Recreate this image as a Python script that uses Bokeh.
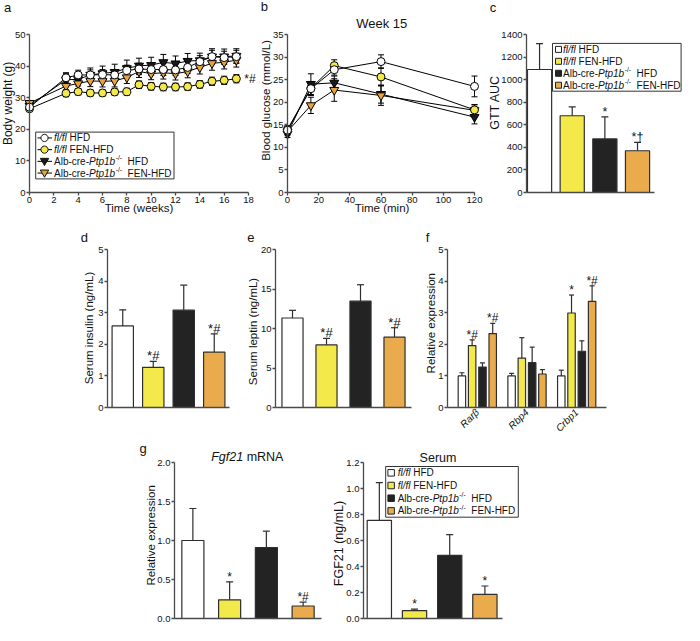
import numpy as np
from bokeh.plotting import figure
from bokeh.models import (Range1d, FixedTicker, Label, BoxAnnotation, PolyAnnotation,
                          Whisker, TeeHead, ColumnDataSource, NumeralTickFormatter)
from bokeh.layouts import row, column
from bokeh.embed import file_html
from bokeh.resources import INLINE
from bokeh.core.properties import value

# ---------------- data ----------------
groups = ["fl/fl HFD", "fl/fl FEN-HFD", "Alb-cre-Ptp1b-/- HFD", "Alb-cre-Ptp1b-/- FEN-HFD"]

# (a) body weight (g)
weeks = [0, 3, 4, 5, 6, 7, 8, 9, 10, 11, 12, 13, 14, 15, 16, 17]
bw_flfl_hfd = [27.0, 36.3, 37.2, 37.2, 37.3, 37.2, 38.6, 39.1, 38.9, 38.9, 38.8, 39.6, 41.4, 43.0, 42.7, 43.0]
bw_flfl_fen = [26.5, 31.4, 31.9, 31.5, 31.5, 31.8, 31.9, 34.1, 33.6, 33.4, 33.4, 33.5, 34.2, 35.2, 35.5, 36.0]
bw_ko_hfd = [27.5, 35.7, 35.8, 37.2, 37.7, 38.1, 39.3, 40.1, 40.3, 41.2, 40.8, 41.6, 41.8, 43.0, 43.0, 43.2]
bw_ko_fen = [28.3, 33.7, 34.5, 35.3, 35.2, 35.3, 36.4, 38.3, 37.6, 37.9, 37.6, 38.3, 39.6, 40.9, 41.2, 41.9]
bw_flfl_hfd_err = [0.8, 1.6, 1.5, 1.6, 1.6, 1.7, 1.7, 1.8, 1.8, 1.9, 1.8, 1.9, 1.9, 2.0, 2.0, 2.0]
bw_flfl_fen_err = [0.7, 1.1, 1.0, 1.0, 1.0, 1.0, 1.1, 1.2, 1.2, 1.2, 1.2, 1.2, 1.2, 1.3, 1.3, 1.3]
bw_ko_hfd_err = [0.9, 2.0, 2.1, 2.2, 2.3, 2.5, 2.6, 2.4, 2.5, 2.5, 2.4, 2.4, 2.3, 2.5, 2.4, 2.3]
bw_ko_fen_err = [0.8, 1.6, 1.7, 1.8, 1.8, 1.9, 1.9, 1.9, 1.9, 2.0, 2.0, 2.0, 2.1, 2.2, 2.1, 2.2]

# (b) GTT, week 15
gtt_min = [0, 15, 30, 60, 120]
gtt_flfl_hfd = [13.8, 23.0, 27.2, 29.0, 23.5]
gtt_flfl_fen = [14.0, 23.1, 28.1, 25.6, 18.3]
gtt_ko_hfd = [13.0, 24.0, 24.3, 21.8, 16.7]
gtt_ko_fen = [13.5, 19.3, 22.7, 21.5, 18.2]
gtt_flfl_hfd_err = [0.8, 1.5, 1.2, 1.5, 2.3]
gtt_flfl_fen_err = [0.8, 1.5, 1.3, 2.0, 1.2]
gtt_ko_hfd_err = [0.8, 2.3, 1.5, 2.0, 1.5]
gtt_ko_fen_err = [0.8, 1.8, 2.5, 2.2, 1.2]

# (c) GTT AUC
gtt_auc = [1090, 680, 475, 370]
gtt_auc_err = [230, 78, 195, 75]
gtt_auc_ann = ["", "", "*", "*\u2020"]

# (d) serum insulin (ng/mL)
insulin = [2.58, 1.27, 3.08, 1.75]
insulin_err = [0.51, 0.19, 0.79, 0.58]
insulin_ann = ["", "*#", "", "*#"]

# (e) serum leptin (ng/mL)
leptin = [11.33, 7.92, 13.46, 8.9]
leptin_err = [0.97, 0.83, 2.08, 1.2]
leptin_ann = ["", "*#", "", "*#"]

# (f) relative expression of genes
genes = ["Rar\u03b2", "Rbp4", "Crbp1"]
expr = [[1.0, 1.96, 1.28, 2.34], [1.0, 1.56, 1.42, 1.06], [1.0, 2.99, 1.78, 3.36]]
expr_err = [[0.1, 0.18, 0.13, 0.32], [0.08, 0.65, 0.49, 0.14], [0.18, 0.57, 0.33, 0.49]]
expr_ann = [["", "*#", "", "*#"], ["", "", "", ""], ["", "*", "", "*#"]]

# (g) Fgf21
fgf21_mrna = [1.0, 0.24, 0.91, 0.16]
fgf21_mrna_err = [0.41, 0.23, 0.21, 0.05]
fgf21_mrna_ann = ["", "*", "", "*#"]
fgf21_serum = [0.755, 0.06, 0.485, 0.185]
fgf21_serum_err = [0.29, 0.012, 0.16, 0.065]
fgf21_serum_ann = ["", "*", "", "*"]

# legend label pieces: (text, font style, superscript, gap before in em)
legend_pieces = [
    [("fl/fl", "italic", False, 0), ("HFD", "normal", False, 0.278)],
    [("fl/fl", "italic", False, 0), ("FEN-HFD", "normal", False, 0.278)],
    [("Alb-cre-", "normal", False, 0), ("Ptp1b", "italic", False, 0), ("-/-", "normal", True, 0.05),
     ("HFD", "normal", False, 0.556)],
    [("Alb-cre-", "normal", False, 0), ("Ptp1b", "italic", False, 0), ("-/-", "normal", True, 0.05),
     ("FEN-HFD", "normal", False, 0.556)],
]

# ---------------- styles ----------------
FONT = "Liberation Sans"
AX = "#4a4a4a"
EDGE = "#2e2e2e"
TXT = "#111111"
TICK_FS = "9.5px"
bar_colors = ["#ffffff", "#f4e94b", "#232323", "#e9ab4b"]
marker_fill = ["#ffffff", "#f4e94b", "#1a1a1a", "#e9a23c"]
marker_type = ["circle", "circle", "inverted_triangle", "inverted_triangle"]
marker_size = [8, 8, 9, 9]

W = {' ': 278, '-': 333, '/': 278, '#': 556, '*': 389, '(': 333, ')': 333,
     'A': 667, 'B': 667, 'C': 722, 'D': 722, 'E': 667, 'F': 611, 'G': 778, 'H': 722,
     'L': 556, 'N': 722, 'P': 667, 'R': 722, 'S': 667, 'T': 611, 'U': 722, 'W': 944,
     'a': 556, 'b': 556, 'c': 500, 'd': 556, 'e': 556, 'f': 278, 'g': 556, 'h': 556,
     'i': 222, 'k': 500, 'l': 222, 'm': 833, 'n': 556, 'o': 556, 'p': 556, 'r': 333,
     's': 500, 't': 278, 'u': 556, 'v': 500, 'w': 722, 'x': 500, 'y': 500}


def tw(s, size):
    return sum(W.get(ch, 556) for ch in s) / 1000.0 * size


def xrange_fit(d0, d1, p0, p1, total):
    s = (p1 - p0) / (d1 - d0)
    start = d0 - p0 / s
    return Range1d(start, start + total / s)


def yrange_fit(d0, d1, pb, pt, total):
    s = (pb - pt) / (d1 - d0)
    start = d0 - (total - pb) / s
    return Range1d(start, start + total / s)


def make_fig(w, h, xd, xp, yd, yp):
    """xd: (x0, x1) data at pixels xp (from left); yd: (y0, y1) data at pixels yp (from top)."""
    p = figure(width=w, height=h,
               x_range=xrange_fit(xd[0], xd[1], xp[0], xp[1], w),
               y_range=yrange_fit(yd[0], yd[1], yp[0], yp[1], h),
               output_backend="svg", toolbar_location=None,
               min_border_left=0, min_border_right=0, min_border_top=0, min_border_bottom=0)
    p.outline_line_color = None
    p.xgrid.visible = False
    p.ygrid.visible = False
    p.border_fill_color = "white"
    p.xaxis.fixed_location = yd[0]
    p.yaxis.fixed_location = xd[0]
    p.xaxis.bounds = (xd[0], xd[1])
    p.yaxis.bounds = (yd[0], yd[1])
    for ax in p.axis:
        ax.axis_line_color = AX
        ax.axis_line_width = 1.3
        ax.major_tick_line_color = AX
        ax.major_tick_line_width = 1.3
        ax.major_tick_out = 3
        ax.major_tick_in = 0
        ax.minor_tick_line_color = None
        ax.minor_tick_out = 0
        ax.minor_tick_in = 0
        ax.major_label_text_font = FONT
        ax.major_label_text_font_size = TICK_FS
        ax.major_label_text_color = TXT
        ax.major_label_standoff = 1
    return p, h


def no_xticks(p):
    p.xaxis.ticker = FixedTicker(ticks=[])
    p.xaxis.major_tick_out = 0
    p.xaxis.major_label_standoff = 0


def label(p, H, x, y, text, size, style="normal", angle=0.0, align="center", baseline="middle"):
    p.add_layout(Label(x=x, y=H - y, x_units="screen", y_units="screen", text=text,
                       text_font=FONT, text_font_size=f"{size}px", text_font_style=style,
                       angle=angle, text_align=align, text_baseline=baseline, text_color=TXT))


def rich(p, H, x, y, pieces, size):
    cx = x
    for text, style, sup, gap in pieces:
        cx += gap * size
        fs = size * 0.68 if sup else size
        yy = y - size * 0.36 if sup else y
        label(p, H, cx, yy, text, round(fs, 2), style=style, align="left")
        cx += tw(text, fs)


def sbox(p, H, l, t, r, b, fill, line=EDGE, lw=1.0):
    p.add_layout(BoxAnnotation(left=l, right=r, top=H - t, bottom=H - b,
                               left_units="screen", right_units="screen",
                               top_units="screen", bottom_units="screen",
                               fill_color=fill, fill_alpha=1.0, line_color=line,
                               line_alpha=1.0, line_width=lw))


def spoly(p, H, xs, ys, fill, line="#111111", lw=1.0):
    p.add_layout(PolyAnnotation(xs=list(xs), ys=[H - v for v in ys],
                                xs_units="screen", ys_units="screen",
                                fill_color=fill, fill_alpha=1.0 if fill else 0.0,
                                line_color=line, line_alpha=1.0, line_width=lw))


def square_legend(p, H, left, top, right, bottom, sq_x, sq_s, text_x, size):
    sbox(p, H, left, top, right, bottom, "white", line="#333333", lw=1.0)
    rh = (bottom - top) / 4.0
    for i in range(4):
        yc = top + (i + 0.5) * rh
        sbox(p, H, sq_x, yc - sq_s / 2, sq_x + sq_s, yc + sq_s / 2, bar_colors[i], line="#222222", lw=1.0)
        rich(p, H, text_x, yc, legend_pieces[i], size)


def add_series(p, x, y, err, k):
    src = ColumnDataSource(dict(x=x, y=y, lo=[a - b for a, b in zip(y, err)],
                                hi=[a + b for a, b in zip(y, err)]))
    p.add_layout(Whisker(source=src, base="x", lower="lo", upper="hi", dimension="height",
                         line_color="black", line_width=1.0, level="underlay",
                         upper_head=TeeHead(size=6, line_color="black", line_width=1.0),
                         lower_head=TeeHead(size=6, line_color="black", line_width=1.0)))
    p.line("x", "y", source=src, line_color="black", line_width=1.0)
    p.scatter("x", "y", source=src, marker=marker_type[k], size=marker_size[k],
              fill_color=marker_fill[k], line_color="black", line_width=1.0)


def add_bars(p, x, vals, errs, colors, anns, width, head, ann_size):
    src = ColumnDataSource(dict(x=x, top=vals, up=[v + e for v, e in zip(vals, errs)],
                                color=colors, ann=anns))
    p.vbar(x="x", top="top", bottom=0, width=width, source=src, fill_color="color",
           line_color=EDGE, line_width=1.2)
    p.add_layout(Whisker(source=src, base="x", lower="top", upper="up", dimension="height",
                         line_color=EDGE, line_width=1.2, lower_head=None,
                         upper_head=TeeHead(size=head, line_color=EDGE, line_width=1.2)))
    p.text(x="x", y="up", text="ann", source=src, text_font=value(FONT),
           text_font_size=value(f"{ann_size}px"), text_align="center",
           text_baseline="bottom", text_color=TXT, y_offset=2)


# ---------------- row 1 ----------------
pa, Ha = make_fig(258, 216, (0, 18), (29, 248), (0, 50), (192, 34))
pa.xaxis.ticker = FixedTicker(ticks=list(range(0, 19, 2)))
pa.yaxis.ticker = FixedTicker(ticks=list(range(0, 51, 10)))
bw = [bw_flfl_hfd, bw_flfl_fen, bw_ko_hfd, bw_ko_fen]
bw_err = [bw_flfl_hfd_err, bw_flfl_fen_err, bw_ko_hfd_err, bw_ko_fen_err]
for k in [2, 3, 1, 0]:
    add_series(pa, weeks, bw[k], bw_err[k], k)
pa.text(x=[weeks[-1]], y=[bw_flfl_fen[-1]], text=["*#"], x_offset=8, text_baseline="middle",
        text_align="left", text_font=value(FONT), text_font_size=value("12px"), text_color=TXT)
label(pa, Ha, 7.0, 7.3, "a", 13)
label(pa, Ha, 7.0, 102.9, "Body weight (g)", 12, angle=np.pi / 2)
label(pa, Ha, 138.5, 207.7, "Time (weeks)", 11.5)
# legend (a)
lt, lb, ll, lr = 131.6, 178.4, 35.2, 173.5
sbox(pa, Ha, ll, lt, lr, lb, "white", line="#333333", lw=1.0)
rh = (lb - lt) / 4.0
ang = np.linspace(0, 2 * np.pi, 17)[:-1]
for k in range(4):
    yc = lt + (k + 0.5) * rh
    spoly(pa, Ha, [37.0, 51.5], [yc, yc], None, line="black", lw=1.0)
    if marker_type[k] == "circle":
        spoly(pa, Ha, 44 + 3.6 * np.cos(ang), yc + 3.6 * np.sin(ang), marker_fill[k])
    else:
        spoly(pa, Ha, [39.8, 48.2, 44.0], [yc - 3.0, yc - 3.0, yc + 4.2], marker_fill[k])
    rich(pa, Ha, 53.5, yc, legend_pieces[k], 10)

pb, Hb = make_fig(230, 216, (0, 120), (29, 216), (0, 35), (192, 34))
pb.xaxis.ticker = FixedTicker(ticks=list(range(0, 121, 20)))
pb.yaxis.ticker = FixedTicker(ticks=list(range(0, 36, 5)))
gtt = [gtt_flfl_hfd, gtt_flfl_fen, gtt_ko_hfd, gtt_ko_fen]
gtt_err = [gtt_flfl_hfd_err, gtt_flfl_fen_err, gtt_ko_hfd_err, gtt_ko_fen_err]
for k in [2, 3, 1, 0]:
    add_series(pb, gtt_min, gtt[k], gtt_err[k], k)
label(pb, Hb, 5.8, 6.3, "b", 13)
label(pb, Hb, 123.3, 23.4, "Week 15", 13)
label(pb, Hb, 7.0, 99.9, "Blood glucose (mmol/L)", 11.5, angle=np.pi / 2)
label(pb, Hb, 123.6, 207.7, "Time (min)", 11.5)

pc, Hc = make_fig(195, 216, (-0.4, 3.52), (38, 166), (0, 1400), (192, 34))
pc.yaxis.ticker = FixedTicker(ticks=list(range(0, 1401, 200)))
no_xticks(pc)
add_bars(pc, list(range(4)), gtt_auc, gtt_auc_err, bar_colors, gtt_auc_ann, 0.74, 7, 12.5)
label(pc, Hc, 4.5, 6.8, "c", 13)
label(pc, Hc, 6.5, 101.9, "GTT AUC", 12.5, angle=np.pi / 2)
square_legend(pc, Hc, 64, 42.9, 192.6, 90.7, 67, 6, 74.5, 10)

# ---------------- row 2 ----------------
R2H, R2T, R2B = 221, 33, 191
pd, Hd = make_fig(243, R2H, (-0.5, 3.5), (107, 229), (0, 5), (R2B, R2T))
pd.yaxis.ticker = FixedTicker(ticks=list(range(0, 6)))
no_xticks(pd)
add_bars(pd, list(range(4)), insulin, insulin_err, bar_colors, insulin_ann, 0.7, 7, 13)
label(pd, Hd, 83.9, 20.9, "d", 13)
label(pd, Hd, 88.0, 111.5, "Serum insulin (ng/mL)", 11.5, angle=np.pi / 2)

pe, He = make_fig(181, R2H, (-0.5, 3.5), (32, 168), (0, 20), (R2B, R2T))
pe.yaxis.ticker = FixedTicker(ticks=list(range(0, 21, 5)))
no_xticks(pe)
add_bars(pe, list(range(4)), leptin, leptin_err, bar_colors, leptin_ann, 0.62, 7, 13)
label(pe, He, 7.4, 20.9, "e", 13)
label(pe, He, 9.5, 115, "Serum leptin (ng/mL)", 11.5, angle=np.pi / 2)

pf, Hf = make_fig(259, R2H, (-0.6, 2.6), (23, 182), (0, 5), (R2B, R2T))
pf.yaxis.ticker = FixedTicker(ticks=list(range(0, 6)))
pf.xaxis.ticker = FixedTicker(ticks=list(range(len(genes))))
pf.xaxis.major_label_overrides = {i: g for i, g in enumerate(genes)}
pf.xaxis.major_label_orientation = np.pi / 4
pf.xaxis.major_label_text_font_style = "italic"
pf.xaxis.major_label_text_font_size = "10px"
pf.xaxis.major_tick_out = 0
pf.xaxis.major_label_standoff = 3
offsets = [-0.31, -0.104, 0.104, 0.31]
fx, fv, fe_, fc_, fa_ = [], [], [], [], []
for gi in range(len(genes)):
    for k in range(4):
        fx.append(gi + offsets[k])
        fv.append(expr[gi][k])
        fe_.append(expr_err[gi][k])
        fc_.append(bar_colors[k])
        fa_.append(expr_ann[gi][k])
add_bars(pf, fx, fv, fe_, fc_, fa_, 0.15, 5, 12)
label(pf, Hf, 3.0, 20.9, "f", 13)
label(pf, Hf, 6.0, 106.7, "Relative expression", 11.5, angle=np.pi / 2)

# ---------------- row 3 ----------------
R3H = 187
pgl, Hgl = make_fig(331, R3H, (-0.5, 3.5), (174, 321), (0, 2), (181, 25))
pgl.yaxis.ticker = FixedTicker(ticks=[0, 0.5, 1.0, 1.5, 2.0])
pgl.yaxis.formatter = NumeralTickFormatter(format="0.0")
no_xticks(pgl)
add_bars(pgl, list(range(4)), fgf21_mrna, fgf21_mrna_err, bar_colors, fgf21_mrna_ann, 0.6, 7, 12)
label(pgl, Hgl, 142.7, 10.5, "g", 13)
rich(pgl, Hgl, 210.7, 19.7, [("Fgf21", "italic", False, 0), ("mRNA", "normal", False, 0.278)], 12.5)
label(pgl, Hgl, 150.0, 97.9, "Relative expression", 11.5, angle=np.pi / 2)

pgr, Hgr = make_fig(352, R3H, (-0.45, 3.5), (32, 171), (0, 1.2), (181, 25))
pgr.yaxis.ticker = FixedTicker(ticks=[0, 0.2, 0.4, 0.6, 0.8, 1.0, 1.2])
pgr.yaxis.formatter = NumeralTickFormatter(format="0.0")
no_xticks(pgr)
add_bars(pgr, list(range(4)), fgf21_serum, fgf21_serum_err, bar_colors, fgf21_serum_ann, 0.69, 7, 12)
label(pgr, Hgr, 106.5, 20.7, "Serum", 12.5)
label(pgr, Hgr, 7.4, 106, "FGF21 (ng/mL)", 12.5, angle=np.pi / 2)
square_legend(pgr, Hgr, 54.2, 29, 186.8, 79.7, 56.4, 6.5, 66.2, 10)

layout = column(row(pa, pb, pc), row(pd, pe, pf), row(pgl, pgr))
open("out.html", "w").write(file_html(layout, INLINE, title="figure"))
